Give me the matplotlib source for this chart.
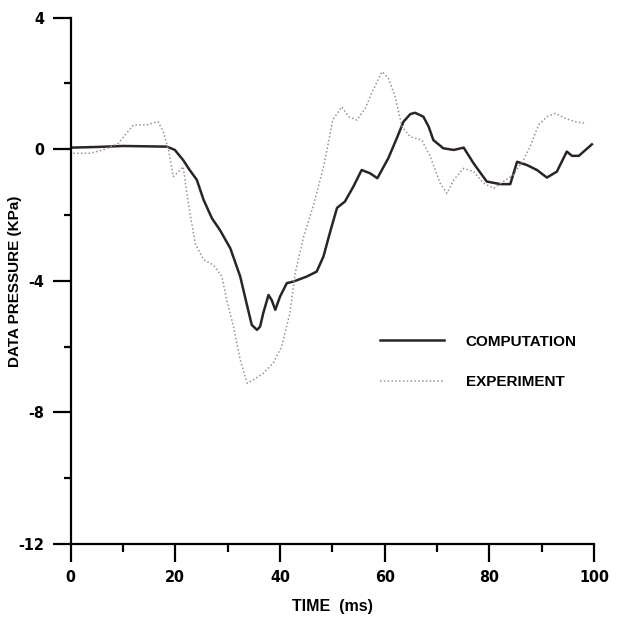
"""
Data pressure vs time: computation against experiment
"""
import matplotlib
matplotlib.use("Agg")
import matplotlib.pyplot as pp
import matplotlib.ticker as ticker

pp.rcParams["axes.unicode_minus"] = False

# computed pressure trace (solid)
comp_t = [0, 5, 10, 18.4, 19.9, 21.5, 22.6, 24.1, 25.4, 27.0, 28.5, 30.5, 32.4, 33.6,
          34.6, 35.6, 36.2, 36.8, 37.8, 38.4, 39.1, 40.0, 41.3, 42.6, 45.1, 47.0,
          48.3, 49.6, 50.9, 52.4, 54.0, 55.6, 57.2, 58.6, 60.7, 62.3, 63.6, 64.9,
          65.8, 67.4, 68.4, 69.3, 71.2, 73.2, 75.1, 77.0, 79.5, 82.1, 84.0, 85.3,
          87.2, 89.1, 91.0, 92.9, 94.8, 95.8, 97.1, 99.6]
comp_p = [0.05, 0.07, 0.1, 0.08, -0.02, -0.33, -0.6, -0.93, -1.54, -2.1, -2.45, -3.01,
          -3.87, -4.68, -5.34, -5.49, -5.39, -4.98, -4.43, -4.58, -4.88, -4.48, -4.07,
          -4.02, -3.87, -3.72, -3.26, -2.5, -1.78, -1.59, -1.14, -0.63, -0.73, -0.88,
          -0.27, 0.33, 0.84, 1.07, 1.11, 0.99, 0.69, 0.28, 0.03, -0.02, 0.05, -0.43,
          -0.98, -1.06, -1.06, -0.38, -0.48, -0.63, -0.86, -0.68, -0.07, -0.2, -0.2,
          0.15]

# measured pressure trace (dotted)
exp_t = [0.5, 3.7, 6.2, 9.1, 10.7, 12.0, 14.5, 16.7, 17.7, 18.7, 19.6, 20.6, 21.5,
         22.2, 22.8, 23.8, 25.4, 27.3, 28.9, 29.8, 31.1, 32.4, 33.7, 34.9, 36.8,
         38.7, 40.3, 41.9, 42.9, 44.5, 46.4, 48.4, 50.1, 51.8, 53.1, 54.7, 56.3,
         57.5, 59.5, 60.7, 62.0, 63.3, 64.9, 67.1, 68.7, 70.6, 71.9, 73.2, 75.1,
         77.0, 78.9, 80.8, 82.7, 84.6, 86.5, 87.8, 89.4, 91.0, 92.6, 94.5, 96.4,
         98.3]
exp_p = [-0.12, -0.12, -0.02, 0.18, 0.49, 0.74, 0.74, 0.84, 0.53, -0.02, -0.83, -0.68,
         -0.53, -1.34, -1.95, -2.86, -3.36, -3.52, -3.87, -4.58, -5.39, -6.4, -7.11,
         -7.01, -6.81, -6.5, -6.0, -4.98, -3.77, -2.66, -1.7, -0.48, 0.9, 1.29, 0.99,
         0.89, 1.25, 1.7, 2.36, 2.16, 1.6, 0.69, 0.38, 0.28, -0.22, -1.03, -1.34,
         -0.93, -0.58, -0.68, -1.03, -1.19, -0.98, -0.78, -0.33, 0.08, 0.74, 0.99,
         1.09, 0.94, 0.84, 0.79]

x_ticks = [0, 20, 40, 60, 80, 100]
y_ticks = [4, 0, -4, -8, -12]

narrow = ["Liberation Sans Narrow", "DejaVu Sans"]
wide = ["Liberation Sans", "DejaVu Sans"]

fig = pp.figure(figsize=(6.19, 6.21), dpi=100)
ax = fig.add_axes([0.1142, 0.124, 0.8454, 0.8475])

ax.plot(comp_t, comp_p, color="#2a2424", lw=1.8, label="COMPUTATION")
ax.plot(exp_t, exp_p, color="#a09090", lw=1.1, ls=(0, (1, 1.5)), label="EXPERIMENT")

ax.set_xlim(0, 100)
ax.set_ylim(-12, 4)
ax.spines["top"].set_visible(False)
ax.spines["right"].set_visible(False)
for s in ("left", "bottom"):
    ax.spines[s].set_linewidth(1.6)

ax.xaxis.set_major_locator(ticker.FixedLocator(x_ticks))
ax.xaxis.set_minor_locator(ticker.MultipleLocator(10))
ax.yaxis.set_major_locator(ticker.FixedLocator(y_ticks))
ax.yaxis.set_minor_locator(ticker.MultipleLocator(2))
ax.tick_params(which="major", direction="out", length=13, width=1.6, pad=6)
ax.tick_params(which="minor", direction="out", length=6, width=1.6)
ax.tick_params(axis="y", which="minor", length=5)

for lab in ax.get_xticklabels() + ax.get_yticklabels():
    lab.set_family(narrow)
    lab.set_stretch("condensed")
    lab.set_fontweight("bold")
    lab.set_fontsize(11.5)

ax.set_xlabel("TIME  (ms)", family=wide, fontweight="bold", fontsize=11.5)
ax.xaxis.set_label_coords(0.5, -0.105)
ax.set_ylabel("DATA PRESSURE (KPa)", family=wide, fontweight="bold", fontsize=11)
ax.yaxis.set_label_coords(-0.093, 0.5)

leg = ax.legend(loc="upper left", bbox_to_anchor=(0.591, 0.398), frameon=False,
                handlelength=4.2, handletextpad=1.4, labelspacing=1.75,
                borderpad=0, borderaxespad=0,
                prop={"family": wide, "weight": "bold", "size": 11})

fig.savefig("out.png", dpi=100)
